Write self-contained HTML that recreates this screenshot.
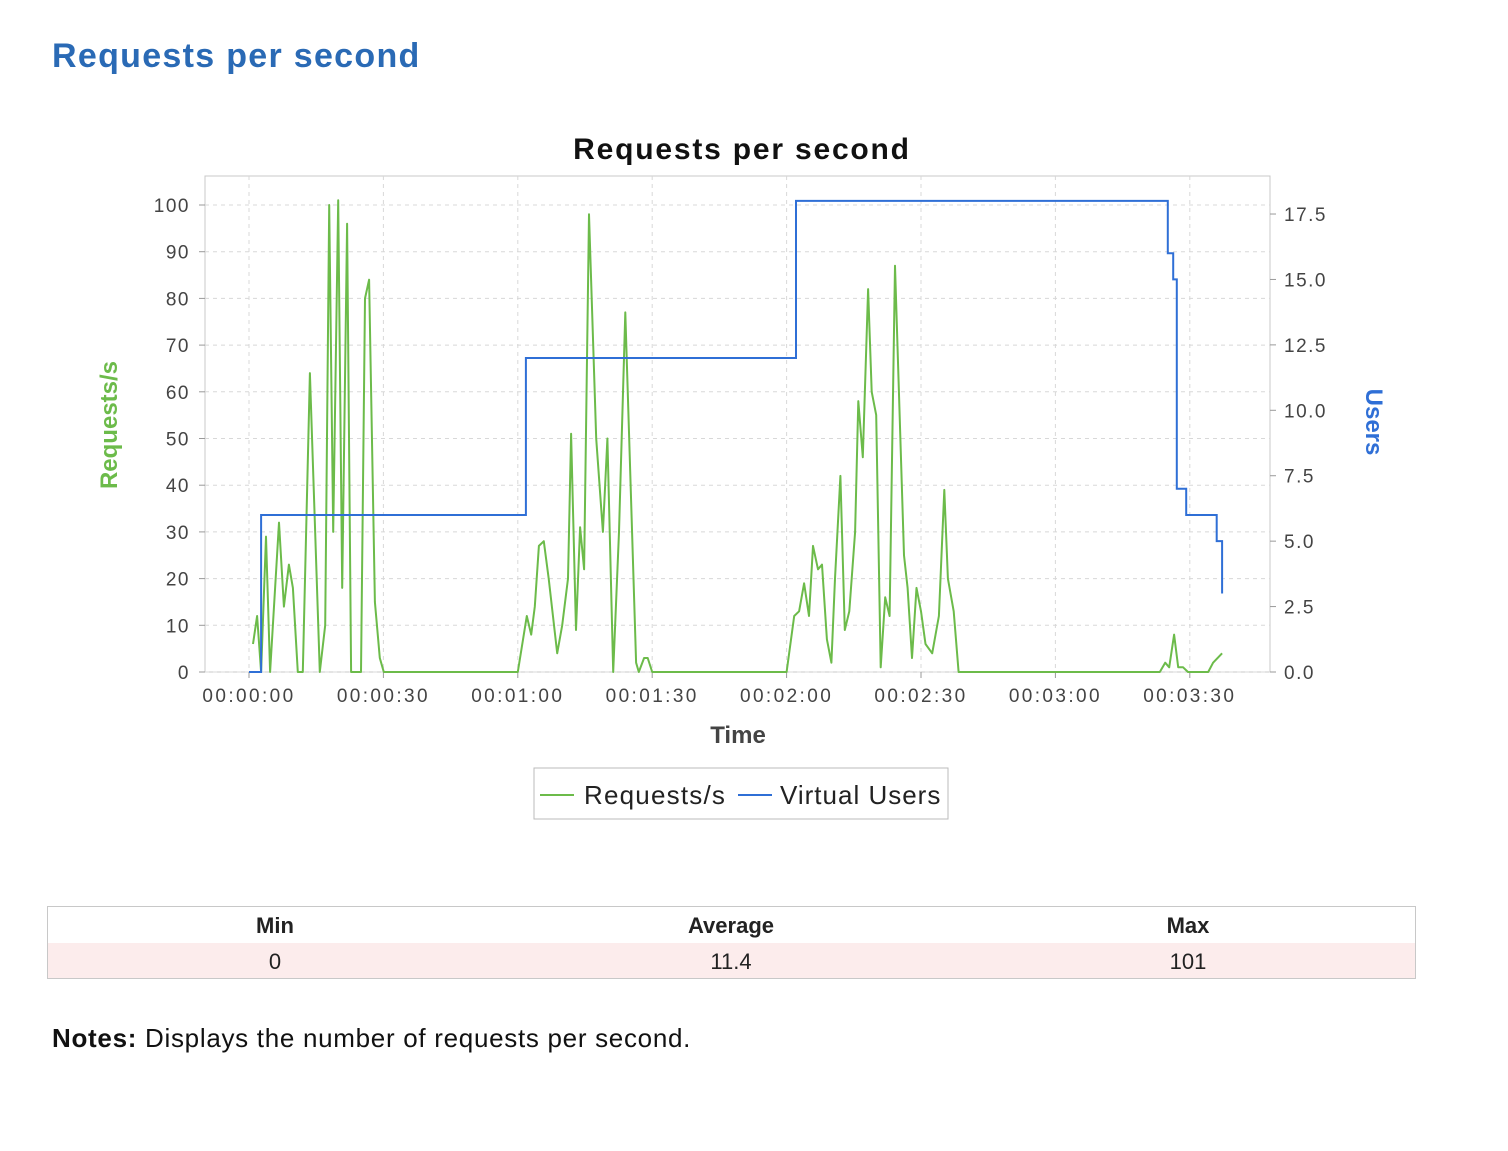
<!DOCTYPE html>
<html><head><meta charset="utf-8"><style>
body{margin:0;background:#fff;width:1508px;height:1146px;overflow:hidden;font-family:"Liberation Sans",sans-serif}
</style></head><body>
<svg id="c" width="1508" height="1146" xmlns="http://www.w3.org/2000/svg" font-family="Liberation Sans, sans-serif">
<text x="52" y="67" font-size="34" font-weight="bold" fill="#2a6ab5" letter-spacing="1.3">Requests per second</text>
<text x="742" y="159" font-size="30" font-weight="bold" fill="#111" text-anchor="middle" letter-spacing="1.8">Requests per second</text>
<rect x="205" y="176" width="1065" height="496" fill="#fff" stroke="#c8c8c8"/>
<g id="grid"></g>
<g id="axes"></g>
<g id="series"></g>
<text x="738" y="743" font-size="24" font-weight="bold" fill="#444" text-anchor="middle">Time</text>
<text transform="translate(117,425) rotate(-90)" font-size="24" font-weight="bold" fill="#6cbb4a" text-anchor="middle">Requests/s</text>
<text transform="translate(1366,422) rotate(90)" font-size="24" font-weight="bold" fill="#2f6fd6" text-anchor="middle">Users</text>
<g>
<rect x="534" y="768" width="414" height="51" fill="#fff" stroke="#bbb"/>
<line x1="540" y1="795" x2="574" y2="795" stroke="#6cbb4a" stroke-width="2"/>
<text x="584" y="804" font-size="26" fill="#222" letter-spacing="1.2">Requests/s</text>
<line x1="738" y1="795" x2="772" y2="795" stroke="#2f6fd6" stroke-width="2"/>
<text x="780" y="804" font-size="26" fill="#222" letter-spacing="1">Virtual Users</text>
</g>
<g>
<rect x="47.5" y="906.5" width="1368" height="72" fill="#fff" stroke="#c8c8c8"/>
<rect x="48" y="943" width="1367" height="35" fill="#fcecec"/>
<text x="275" y="933" font-size="22" font-weight="bold" fill="#222" text-anchor="middle">Min</text>
<text x="731" y="933" font-size="22" font-weight="bold" fill="#222" text-anchor="middle">Average</text>
<text x="1188" y="933" font-size="22" font-weight="bold" fill="#222" text-anchor="middle">Max</text>
<text x="275" y="969" font-size="22" fill="#222" text-anchor="middle">0</text>
<text x="731" y="969" font-size="22" fill="#222" text-anchor="middle">11.4</text>
<text x="1188" y="969" font-size="22" fill="#222" text-anchor="middle">101</text>
</g>
<text x="52" y="1047" font-size="26" fill="#111" letter-spacing="0.7"><tspan font-weight="bold">Notes:</tspan> Displays the number of requests per second.</text>
</svg>
<script>
const reqTimes=[0.9,1.8,2.7,3.8,4.7,6.7,7.8,8.9,9.8,10.9,12,13.6,15.8,17,17.9,18.8,19.9,20.8,21.9,22.8,25,25.9,26.8,28.1,29.2,30.1,60,62,63,63.8,64.7,65.8,66.9,68.8,69.9,71.2,71.9,73,73.9,74.8,75.9,77.5,79,80,81.3,82.6,84,86.4,87,88.2,89,90,120,121.7,122.8,123.9,125,125.9,127,127.9,129,130,130.8,132,133,134,135.3,136,137,138.2,139,140,141,142,143,144.2,146.2,147,148,149,150,151,152.5,154,155.2,156,157.3,158.4,203.3,204.5,205.4,206.5,207.4,208.5,209.6,214.1,215.2,217.2];
const reqValues=[6,12,0,29,0,32,14,23,18,0,0,64,0,10,100,30,101,18,96,0,0,80,84,15,3,0,0,12,8,14,27,28,20,4,10,20,51,9,31,22,98,50,30,50,0,30,77,2,0,3,3,0,0,12,13,19,12,27,22,23,7,2,20,42,9,13,30,58,46,82,60,55,1,16,12,87,25,18,3,18,13,6,4,12,39,20,13,0,0,2,1,8,1,1,0,0,2,4];
const userTimes=[0,2.7,61.8,122.1,205.1,206.3,207.1,209.2,216,217.2];
const userValues=[0,6,12,18,16,15,7,6,5,3];
const yTicks=[0,10,20,30,40,50,60,70,80,90,100];
const y2Ticks=[0,2.5,5,7.5,10,12.5,15,17.5];
const xTickSecs=[0,30,60,90,120,150,180,210];
const xTickLabels=["00:00:00","00:00:30","00:01:00","00:01:30","00:02:00","00:02:30","00:03:00","00:03:30"];
const NS="http://www.w3.org/2000/svg";
const X=t=>249+t*4.48, Y=v=>672-v*4.67, Y2=v=>672-v*26.17;
function mk(tag,at,parent,txt){const e=document.createElementNS(NS,tag);for(const k in at)e.setAttribute(k,at[k]);if(txt!==undefined)e.textContent=txt;document.getElementById(parent).appendChild(e);return e;}
yTicks.forEach(v=>{
 const g=mk('line',{x1:205,x2:1270,y1:Y(v),y2:Y(v),stroke:'#d8d8d8','stroke-dasharray':'4,4'},'grid');
 
 
 const tk=mk('line',{x1:199,x2:205,y1:Y(v),y2:Y(v),stroke:'#999'},'axes');
 
 
 const t=mk('text',{x:190,y:Y(v)+7,'font-size':19,fill:'#444','text-anchor':'end','letter-spacing':1.5},'axes',String(v));
 
 
});
y2Ticks.forEach(v=>{
 const tk=mk('line',{x1:1270,x2:1276,y1:Y2(v),y2:Y2(v),stroke:'#999'},'axes');
 
 
 const t=mk('text',{x:1284,y:Y2(v)+7,'font-size':19,fill:'#444','letter-spacing':1.5},'axes',v.toFixed(1));
 
 
});
xTickSecs.forEach((s,i)=>{
 const g=mk('line',{x1:X(s),x2:X(s),y1:176,y2:672,stroke:'#d8d8d8','stroke-dasharray':'4,4'},'grid');
 
 
 const tk=mk('line',{x1:X(s),x2:X(s),y1:672,y2:678,stroke:'#999'},'axes');
 
 
 const t=mk('text',{x:X(s),y:702,'font-size':19,fill:'#444','text-anchor':'middle','letter-spacing':2.4},'axes',xTickLabels[i]);
 
 
});
let pts=reqTimes.map((t,i)=>X(t).toFixed(1)+','+Y(reqValues[i]).toFixed(1)).join(' ');
const rl=mk('polyline',{points:pts,fill:'none',stroke:'#6cbb4a','stroke-width':2,'stroke-linejoin':'round'},'series');


let up=[];userTimes.forEach((t,i)=>{if(i>0)up.push(X(t).toFixed(1)+','+Y2(userValues[i-1]).toFixed(1));up.push(X(t).toFixed(1)+','+Y2(userValues[i]).toFixed(1));});
const ul=mk('polyline',{points:up.join(' '),fill:'none',stroke:'#2f6fd6','stroke-width':2},'series');


</script>
</body></html>
